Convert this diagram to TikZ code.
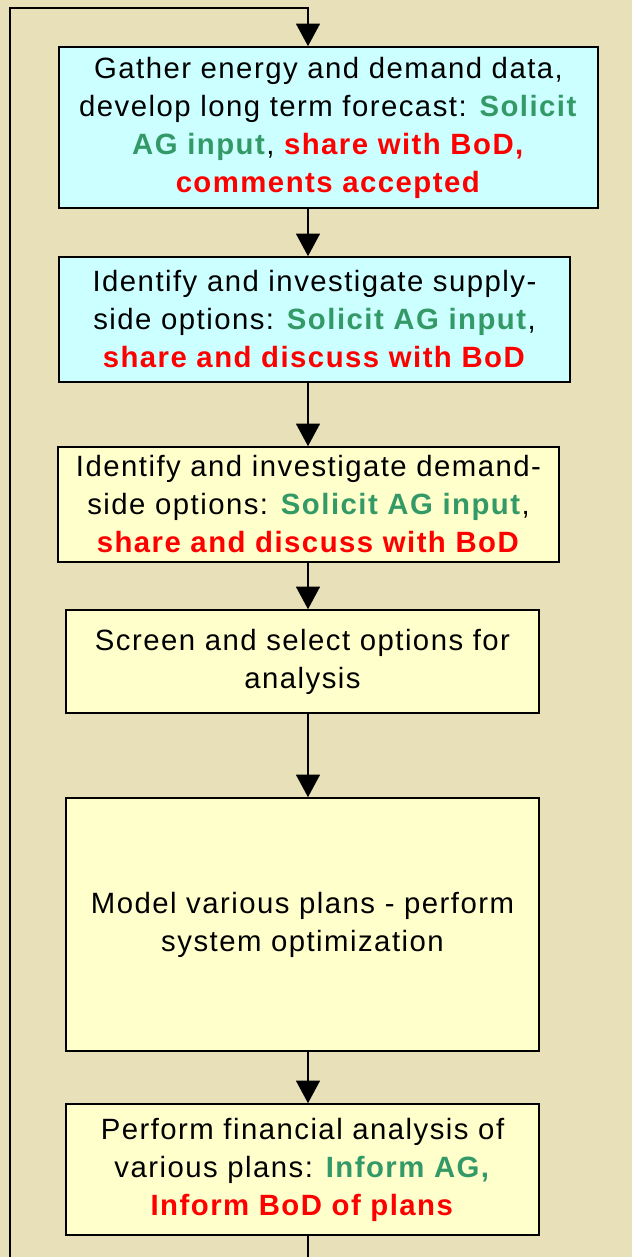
\documentclass[tikz,border=0pt]{standalone}
\usepackage{fontspec}
\setmainfont{Liberation Sans}[LetterSpace=5]
\usetikzlibrary{arrows.meta}
\definecolor{bgbeige}{HTML}{E8E0B9}
\definecolor{boxcyan}{HTML}{CCFFFF}
\definecolor{boxyellow}{HTML}{FFFFCC}
\definecolor{aggreen}{HTML}{339966}
\definecolor{bodred}{HTML}{FF0000}
\newcommand{\ag}[1]{\textcolor{aggreen}{\textbf{#1}}}
\newcommand{\bod}[1]{\textcolor{bodred}{\textbf{#1}}}
\tikzset{
  stepbox/.style={draw=black, line width=1.2pt, align=center, inner sep=0pt,
    font=\fontsize{22}{28.5}\selectfont},
  cyanbox/.style={stepbox, fill=boxcyan},
  yellowbox/.style={stepbox, fill=boxyellow},
  flow/.style={line width=1.2pt, -{Triangle[width=18pt,length=17pt]}}
}
\begin{document}
\begin{tikzpicture}[x=0.75pt,y=-0.75pt]
  % Bakgrunn
  \fill[bgbeige] (0,0) rectangle (632,1257);
  \useasboundingbox (0,0) rectangle (632,1257);

  % Hjelpepunkter
  \coordinate (top) at (308,8);
  \coordinate (bot) at (308,1257);
  \coordinate (corner) at (10,8);
  \coordinate (start) at (10,1257);

  % Bokser
  \node[cyanbox, minimum width=539*0.75pt, minimum height=161*0.75pt] (forecast) at (328.5,127.5)
    {Gather energy and demand data,\\develop long term forecast: \ag{Solicit}\\
     \ag{AG input}, \bod{share with BoD,}\\\bod{comments accepted}};
  \node[cyanbox, minimum width=511*0.75pt, minimum height=125*0.75pt] (supply) at (314.5,319.5)
    {Identify and investigate supply-\\side options: \ag{Solicit AG input},\\
     \bod{share and discuss with BoD}};
  \node[yellowbox, minimum width=501*0.75pt, minimum height=115*0.75pt] (demand) at (308.5,504.5)
    {Identify and investigate demand-\\side options: \ag{Solicit AG input},\\
     \bod{share and discuss with BoD}};
  \node[yellowbox, minimum width=473*0.75pt, minimum height=103*0.75pt] (screen) at (302.5,661.5)
    {Screen and select options for\\analysis};
  \node[yellowbox, minimum width=473*0.75pt, minimum height=253*0.75pt] (model) at (302.5,924.5)
    {Model various plans - perform\\system optimization};
  \node[yellowbox, minimum width=473*0.75pt, minimum height=131*0.75pt] (finance) at (302.5,1169.5)
    {Perform financial analysis of\\various plans: \ag{Inform AG,}\\
     \bod{Inform BoD of plans}};

  % Piler
  \draw[flow] (start) -- (corner) -- (top) -- (forecast.north -| top);
  \draw[flow] (forecast.south -| top) -- (supply.north -| top);
  \draw[flow] (supply.south -| top) -- (demand.north -| top);
  \draw[flow] (demand.south -| top) -- (screen.north -| top);
  \draw[flow] (screen.south -| top) -- (model.north -| top);
  \draw[flow] (model.south -| top) -- (finance.north -| top);
  \draw[line width=1.2pt] (finance.south -| top) -- (bot);
\end{tikzpicture}
\end{document}
